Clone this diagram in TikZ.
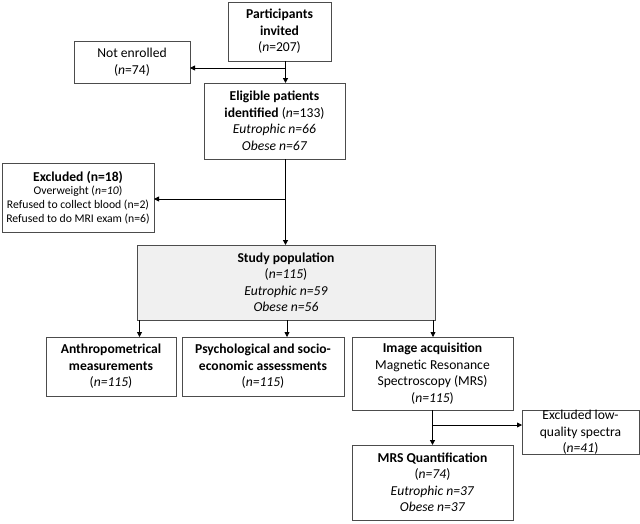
\documentclass[tikz,border=0pt]{standalone}
\usepackage{fontspec}
\setmainfont{Carlito}
\usetikzlibrary{arrows.meta}
\begin{document}
\begin{tikzpicture}[x=1pt,y=-1pt,>={Triangle[length=5pt,width=5pt]},
	box/.style={draw=black!70,line width=0.8pt,align=center,inner sep=0pt,outer sep=0pt,font=\fontsize{13.6}{16.5}\selectfont},
	trunk/.style={->,line width=1.5pt},
	branch/.style={->,line width=0.8pt}]
	\useasboundingbox (0,0) rectangle (640,523);
	\node[box,minimum width=103pt,minimum height=59pt] (invited) at (279.5,31.5) {\textbf{Participants}\\\textbf{invited}\\(\textit{n}=207)};
	\node[box,minimum width=116pt,minimum height=42pt] (notenr) at (132,62) {Not enrolled\\(\textit{n}=74)};
	\node[box,minimum width=141pt,minimum height=76pt] (eligible) at (274.5,121) {\textbf{Eligible patients}\\\textbf{identified} (\textit{n}=133)\\\textit{Eutrophic n=66}\\\textit{Obese n=67}};
	\node[box,font=\fontsize{11.7}{13.7}\selectfont,minimum width=152pt,minimum height=69pt] (excl) at (78,197.5) {\fontsize{13.6}{16}\selectfont\textbf{Excluded (n=18)}\\Overweight (\textit{n=10})\\Refused to collect blood (n=2)\\Refused to do MRI exam (n=6)};
	\node[box,fill=black!6,minimum width=298pt,minimum height=75pt] (study) at (286,282.5) {\textbf{Study population}\\(\textit{n=115})\\\textit{Eutrophic n=59}\\\textit{Obese n=56}};
	\node[box,minimum width=130pt,minimum height=59pt] (anthro) at (111,366.5) {\textbf{Anthropometrical}\\\textbf{measurements}\\(\textit{n=115})};
	\node[box,minimum width=162pt,minimum height=59pt] (psych) at (263,366.5) {\textbf{Psychological and socio-}\\\textbf{economic assessments}\\(\textit{n=115})};
	\node[box,minimum width=161pt,minimum height=73pt] (image) at (432.5,373.5) {\textbf{Image acquisition}\\Magnetic Resonance\\Spectroscopy (MRS)\\(\textit{n=115})};
	\node[box,minimum width=117pt,minimum height=41pt] (lowq) at (580.5,432.5) {Excluded low-\\quality spectra\\(\textit{n=41})};
	\node[box,minimum width=161pt,minimum height=75pt] (mrs) at (432.5,482.5) {\textbf{MRS Quantification}\\(\textit{n=74})\\\textit{Eutrophic n=37}\\\textit{Obese n=37}};
	\coordinate (t1) at (285.5,68);
	\coordinate (t2) at (285.5,199);
	\coordinate (t3) at (432.5,425);
	\coordinate (a1) at ([xshift=2.5pt]study.south west);
	\coordinate (a2) at ([xshift=1pt]study.south);
	\coordinate (a3) at ([xshift=-2pt]study.south east);
	\draw[trunk] (invited.south -| t1) -- (eligible.north -| t1);
	\draw[branch] (t1) -- (t1 -| notenr.east);
	\draw[trunk] (eligible.south -| t2) -- (study.north -| t2);
	\draw[branch] (t2) -- (t2 -| excl.east);
	\draw[branch] (a1) -- (a1 |- anthro.north);
	\draw[branch] (a2) -- (a2 |- psych.north);
	\draw[branch] (a3) -- (a3 |- image.north);
	\draw[trunk] (image.south -| t3) -- (mrs.north -| t3);
	\draw[branch] (t3) -- (t3 -| lowq.west);
\end{tikzpicture}
\end{document}
